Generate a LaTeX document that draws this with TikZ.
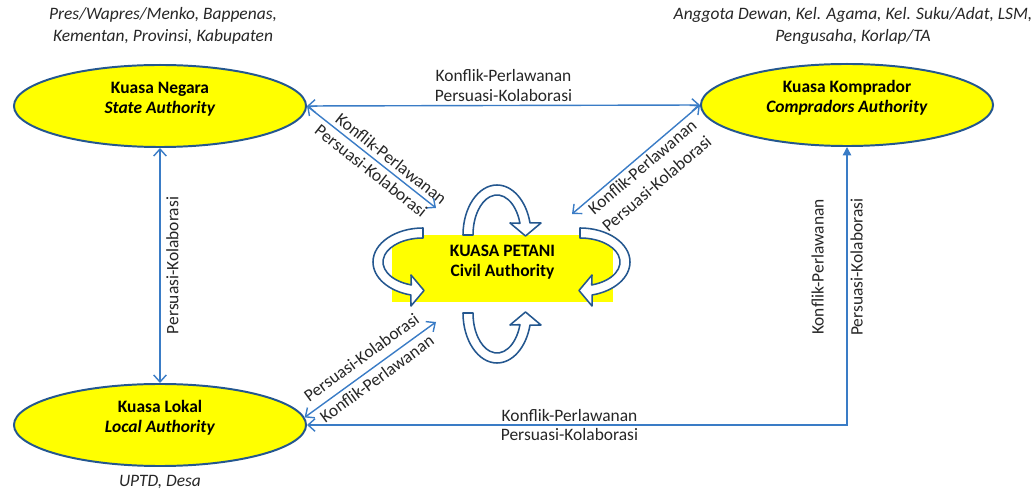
\documentclass[tikz,border=0pt]{standalone}
\usepackage{fontspec}
\setmainfont{Carlito}
\usetikzlibrary{positioning,arrows.meta,shapes.geometric}

\definecolor{lineblue}{HTML}{3A7CC6}
\definecolor{rimblue}{HTML}{24578F}
\definecolor{boxyellow}{HTML}{FFFF00}
\definecolor{txtgray}{HTML}{262626}

\tikzset{
  looparrow/.pic={
    \draw[x=0.025cm, y=0.025cm, draw=rimblue, line width=1.1pt, fill=white, line join=round]
      (-34,0) arc[start angle=180, end angle=14, x radius=34, y radius=50]
      -- (44,12) -- (28.5,-1) -- (13,12) -- (22.95,11.7)
      arc[start angle=17, end angle=180, x radius=24, y radius=40] -- cycle;
  }
}

\begin{document}
\begin{tikzpicture}[
  x=0.025cm, y=-0.025cm,
  authority/.style={ellipse, draw=rimblue, line width=1.4pt, fill=boxyellow, minimum width=7.3cm, minimum height=2.05cm, inner sep=0pt, text depth=12pt, align=center, font=\fontsize{12.4}{14.2}\selectfont},
  civil/.style={rectangle, fill=boxyellow, minimum width=5.52cm, minimum height=1.67cm, text depth=11pt, align=center, font=\bfseries\fontsize{12.4}{14.2}\selectfont},
  link/.style={draw=lineblue, line width=1pt, >={Straight Barb[length=5pt,width=9pt]}, <->},
  tag/.style={text=txtgray, inner sep=2pt, align=center, font=\fontsize{12.4}{14.8}\selectfont},
  note/.style={text=txtgray, align=center, font=\itshape\fontsize{12.4}{15.6}\selectfont}
]
\useasboundingbox (0,0) rectangle (1032,490);

% Authorities
\node[authority] (state) at (160,106) {\textbf{Kuasa Negara}\\\textbf{\textit{State Authority}}};
\node[authority] (komprador) at (847,105) {\textbf{Kuasa Komprador}\\\textbf{\textit{Compradors Authority}}};
\node[authority] (lokal) at (160,425) {\textbf{Kuasa Lokal}\\\textbf{\textit{Local Authority}}};
\node[civil] (petani) at (502.5,268.5) {KUASA PETANI\\Civil Authority};

% Notes
\node[note] (statenote) at (163,26) {Pres/Wapres/Menko, Bappenas,\\Kementan, Provinsi, Kabupaten};
\node[note] (kompnote) at (853,26) {Anggota Dewan, Kel. Agama, Kel. Suku/Adat, LSM,\\Pengusaha, Korlap/TA};
\node[note] (lokalnote) at (160,482) {UPTD, Desa};

% Loops round the civil authority
\pic at (497,235) {looparrow};
\pic[yscale=-1] at (497,313) {looparrow};
\pic[rotate=90, xscale=-1] at (423,262) {looparrow};
\pic[rotate=-90] at (580,262) {looparrow};

% Free ends near the civil authority
\coordinate (toNW) at (436,208);
\coordinate (toNE) at (572,214);
\coordinate (toSW) at (436,322);

% State <-> Comprador
\draw[link] (state.east) -- (komprador.west)
  node[tag, midway, above] {Konflik-Perlawanan\\Persuasi-Kolaborasi};

% State <-> Lokal
\draw[link] (lokal.north) -- (state.south)
  node[tag, midway, sloped, below=2pt] {Persuasi-Kolaborasi};

% Authorities <-> Civil
\draw[link] (state.east) -- (toNW)
  node[tag, pos=0.6, sloped, above=1pt] {Konflik-Perlawanan}
  node[tag, pos=0.55, sloped, below=1pt] {Persuasi-Kolaborasi};
\draw[link] (toNE) -- (komprador.west)
  node[tag, midway, sloped, below] {Konflik-Perlawanan\\[1pt]Persuasi-Kolaborasi};
\draw[link] (lokal.3) -- (toSW)
  node[tag, midway, sloped, above=4pt] {Persuasi-Kolaborasi}
  node[tag, midway, sloped, below=1pt] {Konflik-Perlawanan};

% Lokal <-> Comprador
\draw[link, <-{Triangle[length=6pt,width=6pt]}] (lokal.east) -| (komprador.south)
  node[tag, pos=0.243, above] {Konflik-Perlawanan}
  node[tag, pos=0.243, below] {Persuasi-Kolaborasi}
  node[tag, pos=0.784, sloped, above=14pt] {Konflik-Perlawanan}
  node[tag, pos=0.784, sloped, below] {Persuasi-Kolaborasi};

\end{tikzpicture}
\end{document}
